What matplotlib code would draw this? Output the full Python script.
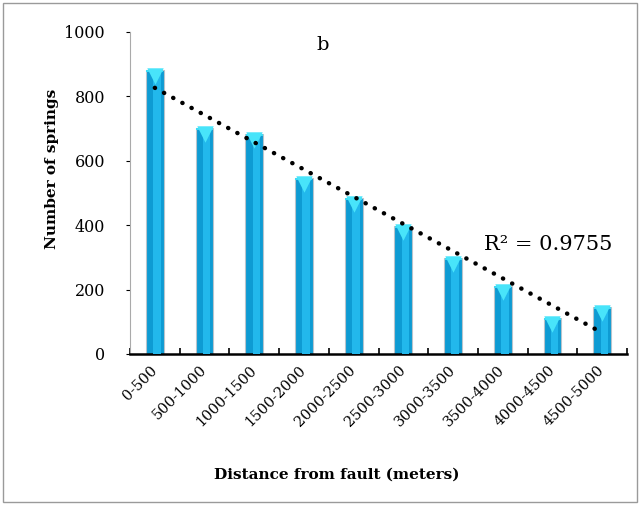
import matplotlib.pyplot as plt
import matplotlib.transforms as mtransforms
import numpy as np
from matplotlib.patches import Rectangle

categories = ["0-500", "500-1000", "1000-1500", "1500-2000", "2000-2500",
              "2500-3000", "3000-3500", "3500-4000", "4000-4500", "4500-5000"]
springs = [882, 702, 683, 547, 484, 397, 298, 211, 112, 146]
r2_label = "R² = 0.9755"

plt.rcParams["font.family"] = ["DejaVu Serif", "DejaVu Sans"]

fig = plt.figure(figsize=(6.42, 5.05), dpi=100)
ax = fig.add_axes([130 / 642, 1 - 354 / 505, 497 / 642, 322 / 505])

x = np.arange(len(categories))
w = 0.36
ax.bar(x, springs, w, color="#0e9bd3", edgecolor="#b8c4cc", linewidth=0.8, zorder=2)
ax.bar(x + w * 0.12, springs, w * 0.42, color="#22b8ec", linewidth=0, zorder=3)
# light cap band + triangle at top of each bar
off = mtransforms.ScaledTranslation(0, -4.5 / 72, fig.dpi_scale_trans)
ax.bar(x, [7] * len(x), w * 0.95, bottom=np.array(springs) - 7,
       color="#40daf4", linewidth=0, zorder=4)
ax.scatter(x, springs, marker="v", s=140, color="#48e4fa", linewidths=0,
           zorder=5, transform=ax.transData + off)

# linear trendline
k, b = np.polyfit(x, springs, 1)
ax.plot(x, k * x + b, color="black", linewidth=3.2, linestyle=(0, (0.05, 2.3)),
        dash_capstyle="round", zorder=6)

ax.set_xlim(-0.5, len(x) - 0.5)
ax.set_ylim(0, 1000)
ax.set_yticks([0, 200, 400, 600, 800, 1000])
ax.set_xticks(x, categories, rotation=45, ha="right", va="center",
              rotation_mode="anchor", fontsize=10.5)
ax.set_xticks(np.arange(len(x) + 1) - 0.5, minor=True)
ax.tick_params(axis="x", which="major", length=0, pad=10)
ax.tick_params(axis="x", which="minor", direction="in", length=4, width=1.2)
ax.tick_params(axis="y", direction="out", length=3, labelsize=11.5, pad=15)
for s in ["top", "right"]:
    ax.spines[s].set_visible(False)
ax.spines["bottom"].set_linewidth(1.8)
ax.spines["left"].set_color("#aaaaaa")

fig.text(52 / 642, 1 - 169 / 505, "Number of springs", rotation=90,
         ha="center", va="center", fontsize=11, fontweight="bold")
fig.text(337 / 642, 1 - 475 / 505, "Distance from fault (meters)",
         ha="center", va="center", fontsize=11, fontweight="bold")
fig.text(323 / 642, 1 - 45 / 505, "b", ha="center", va="center", fontsize=14)
fig.text(548 / 642, 1 - 244 / 505, r2_label, ha="center", va="center", fontsize=15)

fig.patches.append(Rectangle((3 / 642, 3 / 505), 634 / 642, 499 / 505,
                             transform=fig.transFigure, fill=False,
                             edgecolor="#9a9a9a", linewidth=1))

fig.savefig("out.png", dpi=100)
